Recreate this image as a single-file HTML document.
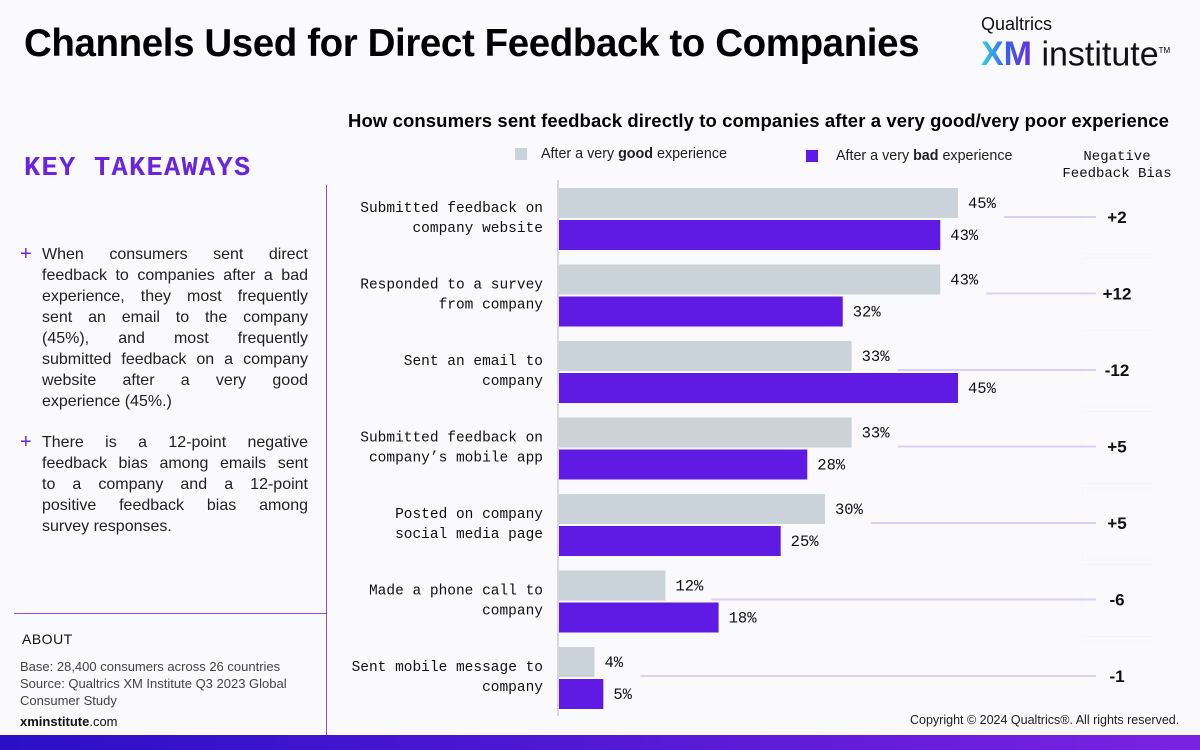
<!DOCTYPE html>
<html><head><meta charset="utf-8"><style>
body{margin:0;width:1200px;height:750px;background:#fafafd;font-family:"Liberation Sans",sans-serif;overflow:hidden;position:relative}
.abs{position:absolute}
.mono{font-family:"Liberation Mono","DejaVu Sans Mono",monospace}
.tk span{display:block;text-align:justify;text-align-last:justify;white-space:nowrap}
.tk span.last{text-align-last:left}
</style></head><body>
<div class="abs" style="left:24px;top:22px;font-size:38.5px;font-weight:bold;color:#000;letter-spacing:-0.4px">Channels Used for Direct Feedback to Companies</div>
<div class="abs" style="left:981px;top:14px;width:210px">
 <div style="font-size:18px;color:#111">Qualtrics</div>
 <div style="font-size:34px;line-height:30px;margin-top:1px;white-space:nowrap"><b style="background:linear-gradient(90deg,#2fd6e6,#3a5ef0,#6a2be0);-webkit-background-clip:text;color:transparent">XM</b><span style="color:#111"> institute</span><sup style="font-size:8px">TM</sup></div>
</div>
<div class="abs" style="left:348px;top:110px;font-size:18.5px;font-weight:bold;color:#000;white-space:nowrap;letter-spacing:0.1px">How consumers sent feedback directly to companies after a very good/very poor experience</div>
<div class="abs mono" style="left:24px;top:154px;font-size:27px;font-weight:bold;color:#6a24e0;letter-spacing:1.3px">KEY TAKEAWAYS</div>
<div class="abs" style="left:20px;top:244px;width:288px;font-size:16px;line-height:21px;color:#222"><span style="color:#6a24e0;position:absolute;left:0;font-size:20px">+</span><div class="tk" style="margin-left:22px;width:266px"><span>When consumers sent direct</span><span>feedback to companies after a bad</span><span>experience, they most frequently</span><span>sent an email to the company</span><span>(45%), and most frequently</span><span>submitted feedback on a company</span><span>website after a very good</span><span class="last">experience (45%.)</span></div></div>
<div class="abs" style="left:20px;top:432px;width:288px;font-size:16px;line-height:21px;color:#222"><span style="color:#6a24e0;position:absolute;left:0;font-size:20px">+</span><div class="tk" style="margin-left:22px;width:266px"><span>There is a 12-point negative</span><span>feedback bias among emails sent</span><span>to a company and a 12-point</span><span>positive feedback bias among</span><span class="last">survey responses.</span></div></div>
<div class="abs" style="left:326px;top:185px;width:1px;height:550px;background:#8a4be8"></div>
<div class="abs" style="left:14px;top:613px;width:312px;height:1px;background:#8a4be8"></div>
<div class="abs" style="left:22px;top:631px;font-size:14px;color:#111;letter-spacing:0.5px">ABOUT</div>
<div class="abs" style="left:20px;top:658px;font-size:13px;line-height:17px;color:#444">Base: 28,400 consumers across 26 countries<br>Source: Qualtrics XM Institute Q3 2023 Global<br>Consumer Study</div>
<div class="abs" style="left:20px;top:714px;font-size:13px;color:#111"><b>xminstitute</b>.com</div>
<div class="abs" style="left:910px;top:713px;font-size:12.5px;color:#222;white-space:nowrap">Copyright © 2024 Qualtrics®. All rights reserved.</div>
<div class="abs" style="left:0;top:735px;width:1200px;height:15px;background:linear-gradient(90deg,#2a0fc6,#7b22e2)"></div>
<svg id="chart" class="abs" style="left:0;top:0" width="1200" height="750"></svg>
<script>
const categories=[["Submitted feedback on","company website"],["Responded to a survey","from company"],["Sent an email to","company"],["Submitted feedback on","company’s mobile app"],["Posted on company","social media page"],["Made a phone call to","company"],["Sent mobile message to","company"]];
const goodValues=[45,43,33,33,30,12,4];
const badValues=[43,32,45,28,25,18,5];
const biasLabels=["+2","+12","-12","+5","+5","-6","-1"];
const NS="http://www.w3.org/2000/svg";
const svg=document.getElementById('chart');
const x0=559, pxPer=399/45, y0=188, pitch=76.5, bh=30;
const xs=v=>x0+v*pxPer;
function mk(t,a,txt){const e=document.createElementNS(NS,t);for(const k in a)e.setAttribute(k,a[k]);if(txt!=null)e.textContent=txt;svg.appendChild(e);return e;}
let e;
e=mk('rect',{x:515,y:148,width:12,height:12,fill:'#c9d3d9'});

e=mk('text',{x:541,y:158,'font-size':14.3,fill:'#222','font-family':'Liberation Sans'});e.innerHTML='After a very <tspan font-weight="bold">good</tspan> experience';

e=mk('rect',{x:806,y:150,width:12,height:12,fill:'#5f1be3'});

e=mk('text',{x:836,y:160,'font-size':14.3,fill:'#222','font-family':'Liberation Sans'});e.innerHTML='After a very <tspan font-weight="bold">bad</tspan> experience';

e=mk('text',{x:1117,y:160,'font-size':14,'text-anchor':'middle',fill:'#111','font-family':'Liberation Mono'});e.innerHTML='<tspan x="1117">Negative</tspan><tspan x="1117" dy="17">Feedback Bias</tspan>';

e=mk('line',{x1:558,y1:180,x2:558,y2:716,stroke:'#ccc','stroke-width':1.5});

categories.forEach((c,i)=>{
 const y=y0+i*pitch;
 e=mk('rect',{x:1082,y:y-6,width:72,height:72,fill:'none',stroke:'#f5f5f8'});
 
 e=mk('text',{x:543,y:y+24,'font-size':14.5,'text-anchor':'end',fill:'#111','font-family':'Liberation Mono'});
 e.innerHTML=`<tspan x="543">${c[0]}</tspan><tspan x="543" dy="20">${c[1]}</tspan>`;
 
 e=mk('rect',{x:x0,y:y,width:goodValues[i]*pxPer,height:bh,fill:'#c9d3d9'});
 
 e=mk('rect',{x:x0,y:y+32,width:badValues[i]*pxPer,height:bh,fill:'#5f1be3'});
 
 e=mk('text',{x:xs(goodValues[i])+10,y:y+20,'font-size':15.5,fill:'#111','font-family':'Liberation Mono'},goodValues[i]+'%');
 
 e=mk('text',{x:xs(badValues[i])+10,y:y+52,'font-size':15.5,fill:'#111','font-family':'Liberation Mono'},badValues[i]+'%');
 
 e=mk('line',{x1:xs(goodValues[i])+46,y1:y+29,x2:1096,y2:y+29,stroke:'#dccff7','stroke-width':2});
 
 e=mk('text',{x:1117,y:y+35,'font-size':17,'font-weight':'bold','text-anchor':'middle',fill:'#111','font-family':'Liberation Sans'},biasLabels[i]);
 
});
</script>
</body></html>
